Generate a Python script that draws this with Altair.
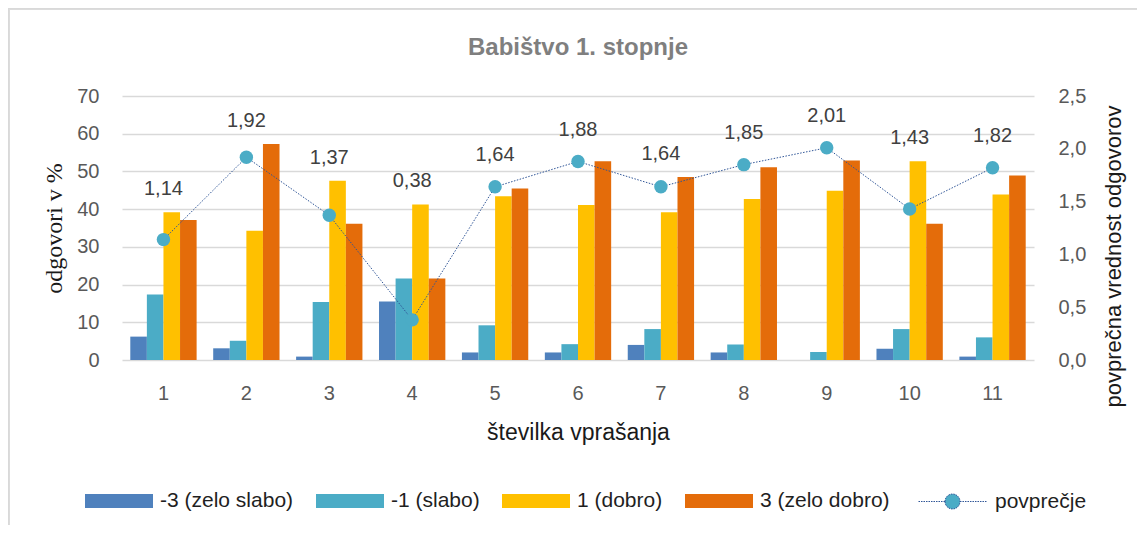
import altair as alt
import pandas as pd

# ---- data ----
questions = [1, 2, 3, 4, 5, 6, 7, 8, 9, 10, 11]
categories = ["-3 (zelo slabo)", "-1 (slabo)", "1 (dobro)", "3 (zelo dobro)"]
very_poor = [6.2, 3.1, 0.9, 15.5, 2.0, 2.0, 4.0, 2.0, 0.0, 3.0, 0.9]
poor = [17.4, 5.1, 15.4, 21.6, 9.2, 4.2, 8.2, 4.1, 2.1, 8.2, 6.0]
good = [39.2, 34.3, 47.5, 41.2, 43.4, 41.1, 39.2, 42.7, 44.9, 52.7, 43.9]
very_good = [37.1, 57.3, 36.1, 21.6, 45.5, 52.7, 48.5, 51.1, 52.9, 36.1, 48.9]
average = [1.14, 1.92, 1.37, 0.38, 1.64, 1.88, 1.64, 1.85, 2.01, 1.43, 1.82]
average_name = "povprečje"
left_ticks = [0, 10, 20, 30, 40, 50, 60, 70]
right_ticks = [0, 0.5, 1.0, 1.5, 2.0, 2.5]

colors = ["#4f81bd", "#4bacc6", "#ffc000", "#e46c0a"]
teal = "#4bacc6"

series = [very_poor, poor, good, very_good]
bars_df = pd.DataFrame(
    [{"q": q, "cat": c, "val": s[i]} for c, s in zip(categories, series) for i, q in enumerate(questions)]
)
avg_df = pd.DataFrame({
    "q": questions,
    "avg": average,
    "series": [average_name] * len(questions),
    "maxbar": [max(s[i] for s in series) for i in range(len(questions))],
})

FONT = "Liberation Sans"
SERIF = "Liberation Serif, DejaVu Serif, serif"
W, H = 912, 264

x_enc = alt.X(
    "q:O",
    scale=alt.Scale(paddingInner=0.2, paddingOuter=0.1),
    axis=alt.Axis(
        title="številka vprašanja", labelAngle=0, domain=False, ticks=False,
        labelPadding=23, labelFont=FONT, labelFontSize=20, labelColor="#595959",
        titleFont=FONT, titleFontSize=23, titleFontWeight="normal", titleColor="#1a1a1a",
        titleBaseline="middle", titleY=72,
    ),
)

bars = alt.Chart(bars_df).mark_bar().encode(
    x=x_enc,
    xOffset=alt.XOffset("cat:N", sort=categories, scale=alt.Scale(paddingInner=0)),
    y=alt.Y(
        "val:Q", stack=None,
        scale=alt.Scale(domain=[0, 70], nice=False),
        axis=alt.Axis(
            title="odgovori v %", values=left_ticks, domain=False, ticks=False,
            grid=True, gridColor="#d9d9d9", gridWidth=1.4,
            labelPadding=23, labelFont=FONT, labelFontSize=20, labelColor="#595959",
            titleFont=SERIF, titleFontSize=24, titleFontWeight="normal",
            titleColor="#1a1a1a", titleBaseline="middle", titleX=-68, titleY=132,
            titleAngle=270,
        ),
    ),
    color=alt.Color(
        "cat:N",
        scale=alt.Scale(domain=categories, range=colors),
        legend=alt.Legend(
            title=None, orient="none", legendX=-37, legendY=371, direction="horizontal",
            symbolType="M-1,-0.206H1V0.206H-1Z", symbolSize=4624, symbolOpacity=1,
            symbolStrokeWidth=0,
            labelOffset=7, columnPadding=22, padding=0, labelLimit=400,
            labelFont=FONT, labelFontSize=21, labelColor="#1f1f1f",
        ),
    ),
)

y_right = alt.Y(
    "avg:Q",
    scale=alt.Scale(domain=[0, 2.5], nice=False),
    axis=alt.Axis(
        orient="right", title="povprečna vrednost odgovorov", values=right_ticks,
        domain=False, ticks=False, grid=False,
        labelExpr="replace(format(datum.value, '.1f'), '.', ',')",
        labelPadding=24, labelFont=FONT, labelFontSize=20, labelColor="#595959",
        titleFont=FONT, titleFontSize=22, titleFontWeight="normal", titleColor="#1a1a1a",
        titleAngle=270, titleBaseline="middle", titleX=79, titleY=160,
    ),
)

line = alt.Chart(avg_df).mark_line(
    color="#2f5597", strokeWidth=1, strokeDash=[1.5, 1.5]
).encode(x=x_enc, y=y_right)

points = alt.Chart(avg_df).mark_point(
    filled=True, shape="circle", size=180, opacity=1
).encode(
    x=x_enc,
    y=alt.Y("avg:Q", scale=alt.Scale(domain=[0, 2.5], nice=False), axis=None),
    color=alt.Color(
        "series:N",
        scale=alt.Scale(domain=[average_name], range=[teal]),
        legend=alt.Legend(
            title=None, orient="none", legendX=796, legendY=371, direction="horizontal",
            symbolType="M-1,0H-0.22M0.22,0H1M-0.22,0A0.22,0.22,0,1,1,0.22,0A0.22,0.22,0,1,1,-0.22,0Z",
            symbolSize=4624, symbolOpacity=1, symbolFillColor=teal,
            symbolStrokeColor="#2f5597", symbolStrokeWidth=1, symbolDash=[1.5, 1],
            labelOffset=8, padding=0, labelLimit=400,
            labelFont=FONT, labelFontSize=21, labelColor="#1f1f1f",
        ),
    ),
)

labels = alt.Chart(avg_df).transform_calculate(
    lab_y="max(datum.avg + 0.30, datum.maxbar * 2.5 / 70 + 0.22)",
    lab="replace(format(datum.avg, '.2f'), '.', ',')",
).mark_text(
    font=FONT, fontSize=20, color="#404040", baseline="middle", align="center"
).encode(
    x=x_enc,
    y=alt.Y("lab_y:Q", scale=alt.Scale(domain=[0, 2.5], nice=False), axis=None),
    text="lab:N",
)

border_left = alt.Chart(avg_df).mark_rule(color="#d9d9d9", strokeWidth=1.5).encode(
    x=alt.value(-113.5), y=alt.value(-88), y2=alt.value(429)
)
border_top = alt.Chart(avg_df).mark_rule(color="#d9d9d9", strokeWidth=1.5).encode(
    x=alt.value(-114), x2=alt.value(1015), y=alt.value(-87.5)
)

chart = alt.layer(bars, line, points, labels, border_left, border_top).resolve_scale(
    y="independent", color="independent"
).properties(
    width=W, height=H,
    autosize=alt.AutoSizeParams(type="none"),
    padding={"left": 114, "top": 88, "right": 103, "bottom": 165},
    title=alt.TitleParams(
        "Babištvo 1. stopnje", anchor="middle", frame="group", baseline="alphabetic",
        offset=-72, font=FONT, fontSize=24, fontWeight="bold", color="#7f7f7f",
    ),
).configure_view(stroke=None)

chart.save("out.html", embed_options={"renderer": "svg", "actions": False})
